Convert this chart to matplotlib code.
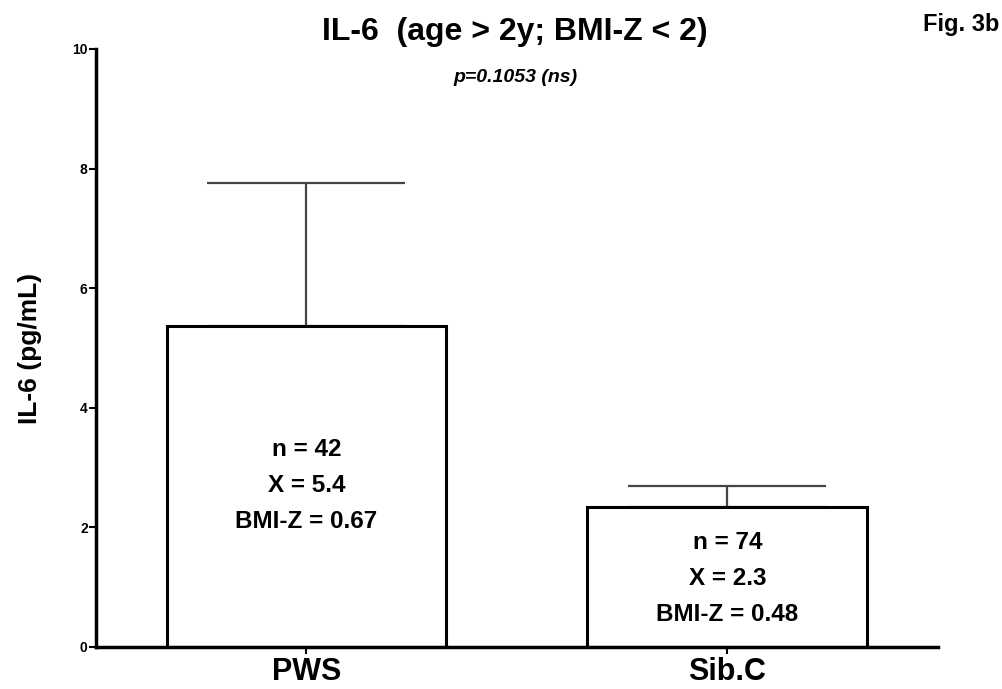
import matplotlib.pyplot as plt

# Data
groups = ["PWS", "Sib.C"]
means = [5.36, 2.34]
sem = [2.39, 0.35]
n_vals = [42, 74]
x_labels = ["5.4", "2.3"]
bmiz = ["0.67", "0.48"]
yticks = [0, 2, 4, 6, 8, 10]

plt.rcParams["font.family"] = ["Liberation Sans", "DejaVu Sans"]
plt.rcParams["font.weight"] = "bold"

fig = plt.figure(figsize=(10.02, 6.89), dpi=100)
ax = fig.add_axes([0.0958, 0.061, 0.8403, 0.868])

pos = list(range(len(groups)))
ax.bar(pos, means, width=0.665, color="white", edgecolor="black", linewidth=2.2, zorder=2)

# upper-only error bars
ax.errorbar(pos, means, yerr=[[0, 0], sem], fmt="none", ecolor="#444444",
            elinewidth=1.6, capsize=71, capthick=1.6, zorder=1)

# text inside bars
for i in pos:
    top = 3.30 if i == 0 else 1.74
    lines = [f"n = {n_vals[i]}", f"X = {x_labels[i]}", f"BMI-Z = {bmiz[i]}"]
    for k, s in enumerate(lines):
        ax.text(i, top - k * 0.6, s, ha="center", va="center",
                fontsize=17.5, fontweight="bold", zorder=3)

ax.set_xlim(-0.5, 1.5)
ax.set_ylim(0, 10)
ax.set_xticks(pos)
ax.set_xticklabels(groups, fontsize=22, fontweight="bold")
ax.set_yticks(yticks)
ax.set_yticklabels([str(t) for t in yticks], fontsize=10, fontweight="bold")
ax.tick_params(axis="y", length=5, width=1.5, pad=1)
ax.tick_params(axis="x", length=5, width=1.5, pad=2)
ax.set_ylabel("IL-6 (pg/mL)", fontsize=19, fontweight="bold", labelpad=22)

for side in ["top", "right"]:
    ax.spines[side].set_visible(False)
for side in ["left", "bottom"]:
    ax.spines[side].set_linewidth(2.5)

fig.text(0.514, 0.953, "IL-6  (age > 2y; BMI-Z < 2)", ha="center", va="center",
         fontsize=23, fontweight="bold")
fig.text(0.514, 0.887, "p=0.1053 (ns)", ha="center", va="center",
         fontsize=14, fontweight="bold", style="italic")
fig.text(0.997, 0.965, "Fig. 3b", ha="right", va="center",
         fontsize=17, fontweight="bold")

plt.savefig("out.png", dpi=100, facecolor="white")
